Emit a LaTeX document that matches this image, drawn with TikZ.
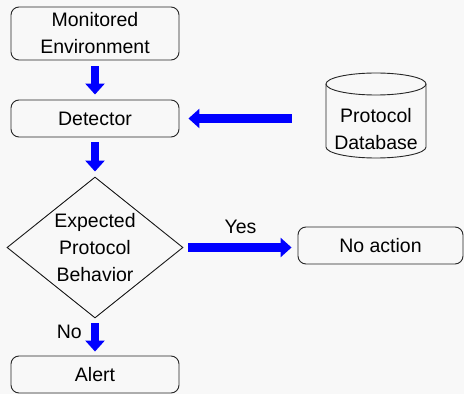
\documentclass[tikz,border=0pt]{standalone}
\usepackage{fontspec}
\setmainfont{Liberation Sans}
\usetikzlibrary{arrows.meta,shapes.geometric}
\definecolor{bgpaper}{RGB}{248,248,248}
\definecolor{flowblue}{RGB}{0,0,255}
\tikzset{
  every node/.style={font=\fontsize{19.5}{27}\selectfont, align=center, text=black},
  stepbox/.style={draw=black!85, line width=0.9pt, rounded corners=8pt, inner sep=0pt},
  decision/.style={draw=black!90, line width=0.9pt, shape=diamond, aspect=1.25, inner sep=0pt,
                   minimum width=176pt, minimum height=141pt},
  flow/.style={draw=flowblue, line width=8.5pt,
               -{Triangle[width=19pt,length=11pt,fill=flowblue]}},
  lbl/.style={inner sep=0pt}
}
\begin{document}
\begin{tikzpicture}[x=1pt,y=1pt]
  \fill[bgpaper] (0,0) rectangle (464,394);
  \useasboundingbox (0,0) rectangle (464,394);

  % process boxes
  \node[stepbox, minimum width=168pt, minimum height=53pt] (env) at (95,360.5) {Monitored\\Environment};
  \node[stepbox, minimum width=168pt, minimum height=37pt] (det) at (95,275.5) {Detector};
  \node[decision] (dec) at (95,146.5) {Expected\\Protocol\\Behavior};
  \node[stepbox, minimum width=165pt, minimum height=37pt] (noact) at (380.5,148.5) {No action};
  \node[stepbox, minimum width=168pt, minimum height=37pt] (alert) at (95,19.5) {Alert};

  % database cylinder
  \draw[black!85, line width=0.9pt] (326,310) -- (326,247)
    arc[start angle=180, end angle=360, x radius=50, y radius=11] -- (426,310);
  \draw[black!85, line width=0.9pt] (376,310) ellipse[x radius=50, y radius=11];
  \node[minimum width=100pt] (db) at (376,264.5) {Protocol\\Database};

  % flow arrows
  \draw[flow, shorten <=6pt, shorten >=5pt] (env.south) -- (det.north);
  \draw[flow, shorten <=5pt, shorten >=5pt] (det.south) -- (dec.north);
  \draw[flow, shorten <=34pt, shorten >=9pt] (db.west |- det.east) -- (det.east);
  \draw[flow, shorten <=5pt, shorten >=6pt] (dec.east) -- (dec.east -| noact.west)
    node[lbl, pos=0.5, yshift=21pt] (yes) {Yes};
  \draw[flow, shorten <=5pt, shorten >=4pt] (dec.south) -- (alert.north)
    node[lbl, pos=0.5, anchor=east, xshift=-9pt, yshift=5pt] (no) {No};
\end{tikzpicture}
\end{document}
